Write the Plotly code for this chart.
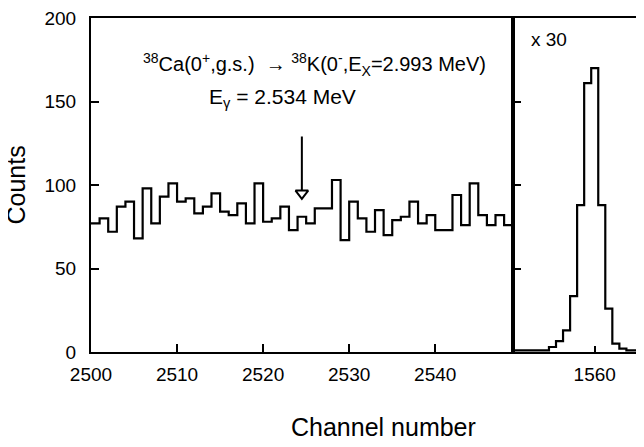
import plotly.graph_objects as go

# ---------------- data ----------------
left_channels = list(range(2500, 2549))
left_counts = [77, 80, 72, 87, 90, 68, 98, 77, 93, 101, 90, 92, 83, 87, 95, 84, 82, 89, 77, 101,
               78, 80, 87, 73, 81, 77, 86, 86, 103, 67, 90, 80, 72, 85, 70, 79, 81, 90, 77, 82,
               73, 73, 94, 76, 101, 82, 76, 82, 76]

right_channels = list(range(1548, 1568))
right_counts = [1, 1, 1, 1, 1, 1, 3, 6.5, 13, 33.5, 88, 161, 170, 88, 26, 5, 2, 1, 1, 1]

left_ticks = [2500, 2510, 2520, 2530, 2540]
right_ticks = [1560]
y_ticks = [0, 50, 100, 150, 200]

arrow_channel = 2524.5
arrow_top = 129
arrow_tip = 95

FONT = "Liberation Sans, Arial, Helvetica, sans-serif"

# left panel: bins start at channel value (edge), width 1
lx = left_channels + [left_channels[-1] + 1]
ly = left_counts + [left_counts[-1]]
# right panel: bins centred on channel value
rx = [c - 0.5 for c in right_channels] + [right_channels[-1] + 0.5]
ry = right_counts + [right_counts[-1]]

fig = go.Figure()
fig.add_trace(go.Scatter(x=lx, y=ly, mode="lines", line=dict(shape="hv", color="black", width=2.2),
                         xaxis="x", yaxis="y", showlegend=False, hoverinfo="skip"))
fig.add_trace(go.Scatter(x=rx, y=ry, mode="lines", line=dict(shape="hv", color="black", width=2.2),
                         xaxis="x2", yaxis="y2", showlegend=False, hoverinfo="skip"))
# open arrowhead
fig.add_trace(go.Scatter(x=[arrow_channel], y=[arrow_tip], mode="markers",
                         marker=dict(symbol="triangle-down-open", size=11, color="black",
                                     line=dict(color="black", width=2)),
                         xaxis="x", yaxis="y", showlegend=False, hoverinfo="skip"))

split = 0.7626
axis_common = dict(showgrid=False, zeroline=False, showline=True, linecolor="black", linewidth=2,
                   ticks="inside", tickcolor="black", tickwidth=2, ticklabeloverflow="allow",
                   tickfont=dict(family=FONT, size=19, color="black"))

# page body has an 8px margin: figure is sized/placed to compensate
fig.update_layout(
    width=636, height=439,
    margin=dict(l=83, r=0, t=5, b=95),
    paper_bgcolor="white", plot_bgcolor="white",
    font=dict(family=FONT, color="black"),
    xaxis=dict(domain=[0, split], range=[2500, 2549], tickvals=left_ticks, ticklen=8,
               mirror=True, ticklabelstandoff=4, anchor="y", **axis_common),
    yaxis=dict(domain=[0, 1], range=[0, 200], tickvals=y_ticks, ticklen=8, mirror=True,
               ticklabelstandoff=9, anchor="x", **axis_common),
    xaxis2=dict(domain=[split, 1], range=[1548.35, 1567.0], tickvals=right_ticks, ticklen=6,
                mirror=True, ticklabelstandoff=4, anchor="y2", **axis_common),
    yaxis2=dict(domain=[0, 1], range=[0, 200], tickvals=[50, 100, 150], ticklen=8,
                showticklabels=False, anchor="x2", **axis_common),
    shapes=[dict(type="line", xref="x", yref="y", x0=arrow_channel, x1=arrow_channel,
                 y0=arrow_top, y1=arrow_tip + 2, line=dict(color="black", width=2))],
    annotations=[
        dict(text="<sup>38</sup>Ca(0<sup>+</sup>,g.s.)  \u2192 <sup>38</sup>K(0<sup>-</sup>,E<sub>X</sub>=2.993 MeV)",
             xref="x", yref="y", x=2526.0, y=172.3, showarrow=False, xanchor="center", yanchor="middle",
             font=dict(family=FONT, size=20, color="black")),
        dict(text="E<sub>\u03b3</sub> = 2.534 MeV",
             xref="x", yref="y", x=2522.2, y=152.2, showarrow=False, xanchor="center", yanchor="middle",
             font=dict(family=FONT, size=21, color="black")),
        dict(text="x 30", xref="x2", yref="y2", x=1550.64, y=187.3, showarrow=False,
             xanchor="left", yanchor="middle", font=dict(family=FONT, size=19, color="black")),
        dict(text="Counts", xref="paper", yref="paper", x=-0.1365, y=0.5, textangle=-90,
             showarrow=False, xanchor="center", yanchor="middle",
             font=dict(family=FONT, size=25, color="black")),
        dict(text="Channel number", xref="paper", yref="paper", x=(383 - 91) / 553, y=-0.2242,
             showarrow=False, xanchor="center", yanchor="middle",
             font=dict(family=FONT, size=25, color="black")),
    ],
)

fig.write_html("out.html")
